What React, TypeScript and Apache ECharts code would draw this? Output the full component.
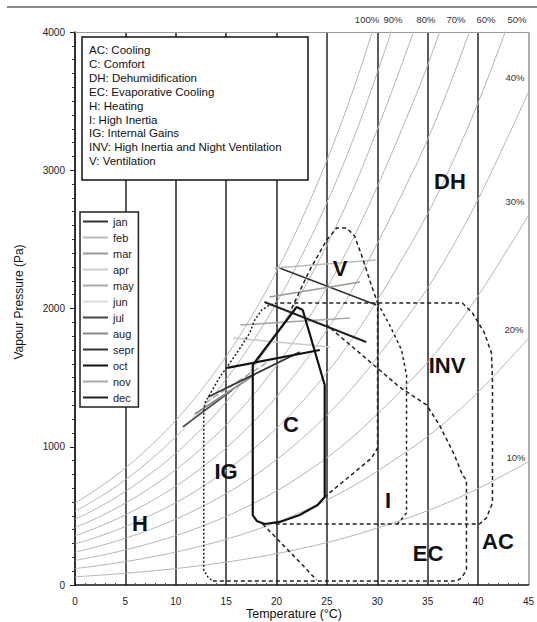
import React, { useEffect, useRef } from 'react';
import * as echarts from 'echarts';

const FONT = "'Liberation Sans', Arial, Helvetica, sans-serif";

// Axis ranges
const tempMin = 0;
const tempMax = 45;
const tempStep = 5;
const presMin = 0;
const presMax = 4000;
const presStep = 1000;

// Saturation vapour pressure (°C -> Pa)
const satTemps = [0, 2.5, 5, 7.5, 10, 12.5, 15, 17.5, 20, 22.5, 25, 27.5, 30, 32.5, 35, 37.5, 40, 42.5, 45];
const satPressure = [593, 709, 846, 1007, 1191, 1407, 1654, 1940, 2268, 2645, 3073, 3558, 4118, 4725, 5373, 6127, 6975, 7923, 8913];
const rhLevels = [10, 20, 30, 40, 50, 60, 70, 80, 90, 100];

const rhTopLabels = ['100%', '90%', '80%', '70%', '60%', '50%'];
const rhTopLabelPos = [[367, 19], [393, 19], [426, 19], [456, 19], [486, 19], [517, 19]];
const rhSideLabels = ['40%', '30%', '20%', '10%'];
const rhSideLabelPos = [[515, 77], [515, 201], [514, 329], [516, 457]];

// Monthly lines: start (T, P) and end (T, P)
const months = ['jan', 'feb', 'mar', 'apr', 'may', 'jun', 'jul', 'aug', 'sepr', 'oct', 'nov', 'dec'];
const monthTStart = [20.3, 19.8, 19.3, 15.7, 12.9, 11.6, 10.7, 11.9, 13.2, 15.1, 16.4, 18.8];
const monthPStart = [2293, 2293, 2083, 1787, 1316, 1208, 1143, 1237, 1360, 1570, 1881, 2047];
const monthTEnd = [29.9, 29.9, 28.3, 25.3, 19.1, 16.9, 15.6, 17.8, 22.3, 24.3, 27.3, 28.9];
const monthPEnd = [2025, 2351, 2192, 1721, 1613, 1483, 1410, 1519, 1685, 1700, 1931, 1758];
const monthColors = ['#333333', '#bbbbbb', '#999999', '#cccccc', '#aaaaaa', '#dddddd', '#444444', '#888888', '#333333', '#111111', '#aaaaaa', '#222222'];
const monthWidths = [1.6, 1.6, 1.6, 1.6, 1.6, 1.6, 1.6, 1.6, 1.8, 2.2, 1.6, 2];
const monthDash = ['solid', 'solid', 'solid', 'solid', 'dashed', 'solid', 'solid', 'solid', 'solid', 'solid', 'solid', 'solid'];

// Zone boundaries (T °C, P Pa)
const comfortZone = [[17.64, 1591], [22.0, 2011], [22.6, 1989], [24.78, 1447], [24.78, 637], [24.08, 579], [22.3, 506], [20.32, 456], [18.83, 441], [18.04, 463], [17.64, 506], [17.64, 1591]];
const ventilationZone = [[21.5, 2000], [23.29, 2278], [24.98, 2495], [25.97, 2582], [26.96, 2582], [27.75, 2524], [28.54, 2365], [29.24, 2206], [30.03, 2040], [30.03, 991], [29.44, 919], [24.78, 637]];
const inertiaRight = [[30.03, 2040], [31.22, 1881], [32.41, 1700], [32.9, 1519], [32.9, 521], [32.0, 441]];
const nightVentZone = [[19.92, 441], [40.14, 441], [40.83, 485], [41.43, 593], [41.43, 1483], [41.33, 1678], [40.63, 1823], [39.45, 1967], [38.45, 2040], [20.02, 2040]];
const gainsLeft = [[20.02, 2040], [19.33, 2025], [18.53, 1989], [17.84, 1917], [17.34, 1823], [16.06, 1678], [14.37, 1504], [12.88, 1316], [12.78, 1251], [12.78, 108], [13.18, 58], [13.68, 29]];
const evapZone = [[13.68, 29], [37.86, 29], [38.35, 51], [38.85, 108], [38.85, 759], [38.45, 796], [37.66, 940], [36.17, 1157], [34.89, 1302], [32.21, 1432], [24.98, 1881]];
const evapLeft = [[18.63, 441], [22.3, 166], [23.98, 36]];

const zoneLegend = [
  'AC: Cooling',
  'C: Comfort',
  'DH: Dehumidification',
  'EC: Evaporative Cooling',
  'H: Heating',
  'I: High Inertia',
  'IG: Internal Gains',
  'INV: High Inertia and Night Ventilation',
  'V: Ventilation',
];
const zoneLabels = ['DH', 'V', 'INV', 'C', 'IG', 'I', 'H', 'EC', 'AC'];
const zoneLabelPos = [[450, 181], [340, 268], [447, 365], [291, 424], [226, 471], [388, 500], [140, 523], [428, 553], [498, 541]];

export default function App() {
  const ref = useRef<HTMLDivElement>(null);

  useEffect(() => {
    document.body.style.margin = '0';
    if (!ref.current) return;
    const chart = echarts.init(ref.current, undefined, { renderer: 'svg' });

    const rhSeries = rhLevels.map((rh) => ({
      type: 'line',
      name: 'rh' + rh,
      data: satTemps.map((t, i) => [t, (rh / 100) * satPressure[i]]),
      smooth: 0.4,
      symbol: 'none',
      silent: true,
      clip: true,
      lineStyle: { color: '#b5b5b5', width: 1 },
      z: 1,
    }));

    const monthSeries = months.map((m, i) => ({
      type: 'line',
      name: m,
      data: [
        [monthTStart[i], monthPStart[i]],
        [monthTEnd[i], monthPEnd[i]],
      ],
      symbol: 'none',
      silent: true,
      lineStyle: { color: monthColors[i], width: monthWidths[i], type: monthDash[i] },
      itemStyle: { color: monthColors[i] },
      z: 3,
    }));

    const dashed = (name: string, data: number[][], dash: number[]) => ({
      type: 'line',
      name,
      data,
      symbol: 'none',
      silent: true,
      lineStyle: { color: '#222', width: 1.5, type: dash },
      z: 4,
    });

    const zoneSeries = [
      dashed('V', ventilationZone, [4, 3]),
      dashed('Iright', inertiaRight, [3, 3]),
      dashed('INV', nightVentZone, [4, 3]),
      dashed('IG', gainsLeft, [2, 2]),
      dashed('EC', evapZone, [4, 3]),
      dashed('ECleft', evapLeft, [4, 3]),
      {
        type: 'line',
        name: 'C',
        data: comfortZone,
        symbol: 'none',
        silent: true,
        lineStyle: { color: '#111', width: 2.2 },
        z: 5,
      },
    ];

    const centered = { align: 'center', verticalAlign: 'middle', textAlign: 'center', textVerticalAlign: 'middle' };

    const graphics: any[] = [
      { type: 'rect', shape: { x: 7, y: 6, width: 530, height: 2 }, style: { fill: '#8a8a8a' }, z: 20 },
      {
        type: 'rect',
        shape: { x: 82, y: 37, width: 226, height: 143 },
        style: { fill: '#fff', stroke: '#111', lineWidth: 1.5 },
        z: 20,
      },
      ...zoneLegend.map((t, i) => ({
        type: 'text',
        x: 89,
        y: 50 + i * 13.9,
        style: { text: t, fontSize: 11.5, fontFamily: FONT, fill: '#111', textVerticalAlign: 'middle', verticalAlign: 'middle' },
        z: 21,
      })),
      ...zoneLabels.map((t, i) => ({
        type: 'text',
        x: zoneLabelPos[i][0],
        y: zoneLabelPos[i][1],
        style: { text: t, fontSize: 22, fontWeight: 'bold', fontFamily: FONT, fill: '#111', ...centered },
        z: 21,
      })),
      ...rhTopLabels.map((t, i) => ({
        type: 'text',
        x: rhTopLabelPos[i][0],
        y: rhTopLabelPos[i][1],
        style: { text: t, fontSize: 9.5, fontFamily: FONT, fill: '#333', ...centered },
        z: 21,
      })),
      ...rhSideLabels.map((t, i) => ({
        type: 'text',
        x: rhSideLabelPos[i][0],
        y: rhSideLabelPos[i][1],
        style: { text: t, fontSize: 9.5, fontFamily: FONT, fill: '#333', ...centered },
        z: 21,
      })),
      {
        type: 'text',
        x: 294,
        y: 614,
        style: { text: 'Temperature (°C)', fontSize: 12.5, fontFamily: FONT, fill: '#111', ...centered },
        z: 21,
      },
      {
        type: 'text',
        x: 19,
        y: 302,
        rotation: Math.PI / 2,
        style: { text: 'Vapour Pressure (Pa)', fontSize: 12, fontFamily: FONT, fill: '#111', ...centered },
        z: 21,
      },
    ];

    const splitColors = rhLevels.map(() => '#333');
    splitColors[splitColors.length - 1] = '#999';

    chart.setOption({
      animation: false,
      backgroundColor: '#fff',
      textStyle: { fontFamily: FONT },
      grid: { left: 75, top: 32, width: 454, height: 553, containLabel: false },
      legend: {
        data: months.map((m) => ({ name: m, icon: 'rect' })),
        orient: 'vertical',
        left: 80,
        top: 212,
        itemWidth: 25,
        itemHeight: 2,
        itemGap: 5,
        padding: [4, 4, 4, 3],
        borderColor: '#222',
        borderWidth: 1.5,
        backgroundColor: '#fff',
        selectedMode: false,
        textStyle: { fontSize: 11, color: '#222', fontFamily: FONT },
        z: 10,
      },
      xAxis: [
        {
          type: 'value',
          min: tempMin,
          max: tempMax,
          interval: tempStep,
          axisLine: { show: true, lineStyle: { color: '#111', width: 1.5 } },
          axisTick: { show: false, inside: true },
          minorTick: { show: true, splitNumber: 5, length: 2, lineStyle: { color: '#555', width: 1 } },
          splitLine: { show: true, lineStyle: { color: splitColors, width: 1.6 } },
          axisLabel: { fontSize: 10, color: '#222', margin: 11, fontFamily: FONT },
        },
        {
          type: 'value',
          position: 'top',
          min: tempMin,
          max: tempMax,
          interval: tempStep,
          axisLine: { show: true, lineStyle: { color: '#999', width: 1 } },
          axisTick: { show: false },
          axisLabel: { show: false },
          splitLine: { show: false },
        },
      ],
      yAxis: {
        type: 'value',
        min: presMin,
        max: presMax,
        interval: presStep,
        axisLine: { show: true, lineStyle: { color: '#222', width: 1.5 } },
        axisTick: { show: true, length: 5, lineStyle: { color: '#222', width: 1 } },
        minorTick: { show: true, splitNumber: 10, length: 3, lineStyle: { color: '#333', width: 1 } },
        splitLine: { show: false },
        axisLabel: { fontSize: 10, color: '#222', margin: 10, fontFamily: FONT, formatter: (v: number) => String(v) },
      },
      series: [...rhSeries, ...monthSeries, ...zoneSeries],
      graphic: { elements: graphics },
    });

    return () => chart.dispose();
  }, []);

  return <div ref={ref} style={{ width: 537, height: 622 }} />;
}
